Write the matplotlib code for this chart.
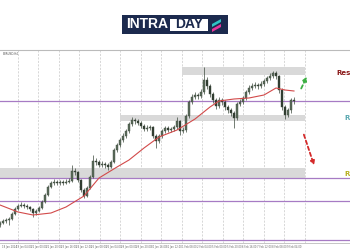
import matplotlib
matplotlib.use("Agg")
import matplotlib.pyplot as plt
import matplotlib.patches as patches

# candle data (index scale, 4h bars)
opens = [18, 20, 22, 23, 24, 29, 34, 37, 38, 37, 36, 34, 30, 32, 35, 41, 48, 56, 60, 61,
         60, 61, 60, 61, 62, 72, 71, 63, 53, 47, 55, 66, 82, 81, 78, 79, 78, 76, 81, 93,
         98, 103, 107, 112, 119, 123, 122, 120, 117, 114, 115, 116, 107, 102, 107, 112, 115, 113, 114, 116,
         122, 112, 113, 127, 141, 146, 148, 147, 151, 163, 157, 149, 143, 137, 143, 141, 136, 133, 130, 125,
         139, 141, 145, 151, 155, 157, 158, 157, 159, 162, 165, 167, 170, 167, 153, 136, 128, 133, 143]
closes = [20, 22, 23, 24, 29, 34, 37, 38, 37, 36, 34, 30, 32, 35, 41, 48, 56, 60, 61, 60,
          61, 60, 61, 62, 72, 71, 63, 53, 47, 55, 66, 82, 81, 78, 79, 78, 76, 81, 93, 98,
          103, 107, 112, 119, 123, 122, 120, 117, 114, 115, 116, 107, 102, 107, 112, 115, 113, 114, 116, 122,
          112, 113, 127, 141, 146, 148, 147, 151, 163, 157, 149, 143, 137, 143, 141, 136, 133, 130, 125, 139,
          141, 145, 151, 155, 157, 158, 157, 159, 162, 165, 167, 170, 167, 153, 136, 128, 133, 143, 142]
highs = [22, 24, 25, 26, 31, 36, 39, 41, 40, 39, 37, 35, 34, 37, 43, 50, 58, 62, 64, 63,
         63, 63, 64, 65, 78, 75, 72, 64, 55, 57, 68, 88, 85, 83, 82, 81, 80, 83, 95, 100,
         105, 110, 114, 121, 126, 125, 124, 122, 119, 118, 118, 117, 109, 109, 114, 117, 117, 116, 118, 126,
         123, 116, 129, 143, 149, 151, 150, 154, 176, 166, 159, 151, 145, 146, 145, 143, 138, 135, 132, 141,
         144, 147, 153, 158, 160, 161, 160, 162, 164, 167, 170, 172, 172, 168, 155, 138, 135, 145, 146]
lows = [16, 19, 20, 18, 23, 28, 33, 36, 35, 34, 32, 26, 28, 31, 34, 40, 47, 55, 58, 58,
        58, 58, 59, 60, 61, 68, 61, 51, 45, 46, 54, 65, 78, 76, 76, 75, 73, 75, 80, 91,
        96, 101, 105, 110, 117, 119, 118, 115, 112, 112, 113, 105, 95, 100, 105, 110, 111, 111, 112, 114,
        108, 110, 111, 125, 139, 144, 144, 145, 149, 154, 146, 140, 134, 135, 138, 133, 130, 127, 115, 123,
        137, 139, 143, 149, 153, 155, 154, 155, 157, 160, 163, 165, 164, 150, 133, 124, 126, 130, 139]

# moving average readings (bar index, value)
ma_idx = [0, 6, 11, 17, 22, 28, 33, 39, 43, 48, 53, 59, 65, 70, 73, 78, 83, 88, 92, 95, 98]
ma_val = [38, 31, 28, 30, 36, 47, 65, 76, 83, 95, 106, 113, 124, 136, 142, 144, 145, 148, 155, 153, 152]

# horizontal levels and zones
levels = [142, 65, 42, 3]
zones = [(60.7, 168, 176), (40, 122, 128), (0, 65, 75)]   # start bar, low, high
zone_end = 101.7
zone_labels = ["Res", "R", "R"]
zone_label_y = [170, 125, 69]
zone_colors = ["#8b1a1a", "#5aa8b0", "#b8b020"]

tick_pos = list(range(3, 99, 5))
tick_labels = ["18 Jan 2024", "19 Jan 04:00", "22 Jan 00:00", "22 Jan 20:00", "23 Jan 16:00",
               "24 Jan 12:00", "25 Jan 08:00", "26 Jan 04:00", "29 Jan 00:00", "29 Jan 20:00",
               "30 Jan 16:00", "31 Jan 12:00", "1 Feb 08:00", "2 Feb 04:00", "5 Feb 00:00",
               "5 Feb 20:00", "6 Feb 16:00", "7 Feb 12:00", "8 Feb 08:00", "9 Feb 04:00"]

fig = plt.figure(figsize=(3.5, 2.5), dpi=100)
ax = fig.add_axes([0, 7 / 250, 1, 193 / 250])
ax.set_xlim(0, 350 / 3)
ax.set_ylim(0, 193)

# vertical dashed grid
k = 0
while 6 + 6.833 * k < 103:
    ax.axvline(6 + 6.833 * k, color="#c8c8c8", lw=0.5, ls=(0, (3, 2)), zorder=0)
    k += 1

for start, lo, hi in zones:
    ax.fill_between([start, zone_end], lo, hi, color="#d9d9d9", lw=0, zorder=1)

for lv in levels:
    ax.axhline(lv, color="#a77bc4", lw=0.9, zorder=2)

# candles
for i in range(len(closes)):
    o, c = opens[i], closes[i]
    ax.vlines(i, lows[i], highs[i], color="#3d4a3d", lw=0.5, zorder=3)
    body = max(abs(c - o), 0.6)
    ax.add_patch(patches.Rectangle((i - 0.3, min(o, c)), 0.6, body,
                                   facecolor="#5b6b5b" if c >= o else "#2f3a2f",
                                   edgecolor="#3d4a3d", lw=0.3, zorder=4))

ax.plot(ma_idx, ma_val, color="#d24a4a", lw=0.8, zorder=5)

# projection arrows
ax.annotate("", xy=(102.7, 169), xytext=(100, 152),
            arrowprops=dict(arrowstyle="-|>", color="#3cb043", lw=1.3, ls=(0, (2, 1.5)),
                            mutation_scale=6))
ax.annotate("", xy=(105, 75), xytext=(101, 111),
            arrowprops=dict(arrowstyle="-|>", color="#d42a2a", lw=1.3, ls=(0, (2, 1.5)),
                            mutation_scale=6))

for lab, yv, col, xs in zip(zone_labels, zone_label_y, zone_colors, [112.0, 114.7, 114.7]):
    ax.text(xs, yv, lab, color=col, fontsize=5, fontweight="bold", va="center", ha="left")

ax.text(0.8, 189, "EURUSD,H4", fontsize=2, color="#555555", va="center")

ax.set_xticks(tick_pos)
ax.set_xticklabels(tick_labels, fontsize=1.8, color="#666666")
ax.tick_params(axis="x", length=0, pad=1.5)
ax.set_yticks([])
for s in ["left", "right"]:
    ax.spines[s].set_visible(False)
ax.spines["top"].set_color("#bbbbbb")
ax.spines["top"].set_linewidth(0.8)
ax.spines["bottom"].set_color("#bbbbbb")
ax.spines["bottom"].set_linewidth(0.6)

# logo
fig.patches.append(patches.Rectangle((122 / 350, 216 / 250), 106 / 350, 19 / 250,
                                     transform=fig.transFigure, facecolor="#1c2a4e",
                                     edgecolor="none"))
fig.patches.append(patches.Rectangle((170 / 350, 219 / 250), 38 / 350, 12 / 250,
                                     transform=fig.transFigure, facecolor="white",
                                     edgecolor="none"))
fig.text(147 / 350, 225.5 / 250, "INTRA", color="white", fontsize=10, fontweight="bold",
         family="Liberation Sans", ha="center", va="center")
fig.text(189 / 350, 225.5 / 250, "DAY", color="#1c2a4e", fontsize=10, fontweight="bold",
         family="Liberation Sans", ha="center", va="center")
fig.patches.append(patches.Polygon([(212 / 350, 226 / 250), (221 / 350, 231 / 250),
                                    (221 / 350, 228 / 250), (212 / 350, 223 / 250)],
                                   transform=fig.transFigure, facecolor="#2ec4c4", edgecolor="none"))
fig.patches.append(patches.Polygon([(212 / 350, 221 / 250), (221 / 350, 226 / 250),
                                    (221 / 350, 223 / 250), (212 / 350, 218 / 250)],
                                   transform=fig.transFigure, facecolor="#e8359a", edgecolor="none"))

fig.savefig("out.png", dpi=100)
